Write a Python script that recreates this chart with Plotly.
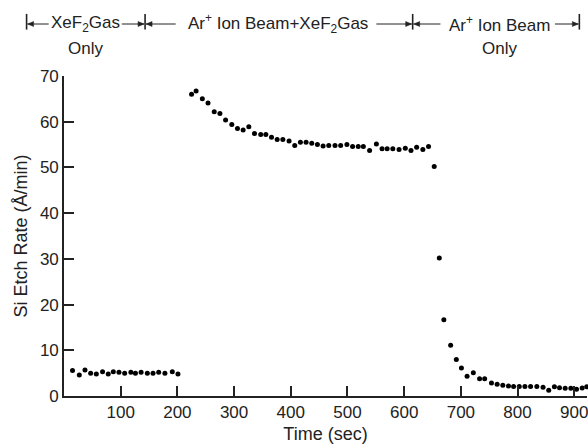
import plotly.graph_objects as go

# ---------------- data ----------------
time_gas_only = [15, 27, 37, 47, 57, 68, 78, 87, 97, 107, 118, 126, 136, 147, 157, 167, 178, 191, 201]
rate_gas_only = [5.6, 4.6, 5.7, 5.0, 4.8, 5.3, 4.8, 5.3, 5.2, 5.0, 5.2, 5.0, 5.2, 5.0, 5.0, 5.2, 5.0, 5.3, 4.8]

time_beam_gas = [225, 233, 244, 254, 265, 275, 285, 296, 306, 316, 326, 336, 347, 356, 366, 376,
                 386, 397, 407, 417, 427, 437, 447, 457, 467, 478, 488, 499, 509, 519, 528, 539,
                 551, 561, 570, 580, 591, 602, 612, 622, 633, 643]
rate_beam_gas = [66.0, 66.7, 65.0, 64.1, 62.2, 61.8, 60.4, 59.4, 58.5, 58.2, 58.9, 57.4, 57.2, 57.2,
                 56.6, 56.1, 56.1, 55.8, 54.8, 55.5, 55.5, 55.3, 55.0, 54.7, 54.8, 54.8, 54.8, 55.0,
                 54.6, 54.6, 54.6, 53.7, 55.1, 54.1, 54.1, 54.1, 53.9, 54.2, 53.7, 54.4, 53.9, 54.6]

time_beam_only = [653, 662, 670, 682, 692, 701, 711, 722, 733, 742, 754, 764, 774, 784, 793, 803,
                  813, 823, 834, 845, 855, 865, 874, 884, 894, 904, 914, 922]
rate_beam_only = [50.2, 30.2, 16.7, 11.1, 8.0, 6.1, 4.3, 5.1, 3.8, 3.8, 2.85, 2.55, 2.35, 2.2, 2.1, 2.1,
                  2.1, 2.1, 2.1, 1.9, 1.25, 2.0, 1.8, 1.7, 1.7, 1.5, 1.75, 2.0]

x_tick_values = [100, 200, 300, 400, 500, 600, 700, 800, 900]
y_tick_values = [0, 10, 20, 30, 40, 50, 60, 70]

phase_labels = ["XeF<sub>2</sub>Gas", "Ar<sup>+</sup> Ion Beam+XeF<sub>2</sub>Gas", "Ar<sup>+</sup> Ion Beam"]
phase_sublabels = ["Only", "", "Only"]
# phase boundaries (sec) used for the header bars
phase_bounds = [-66, 143, 615, 909]
# header label centres and arrow tails (sec)
phase_centers = [38, 378, 768]
arrow_tails = [(-27, 102), (197, 551), (664, 866)]

# ---------------- layout constants ----------------
W, H = 588, 446
ML, MR, MT, MB = 64, 1, 76, 50
X_RANGE = [0, 922.5]
Y_RANGE = [0, 70]
FONT = "Liberation Sans, Arial, Helvetica, sans-serif"
INK = "#222"
plot_w = W - ML - MR
plot_h = H - MT - MB


def xp(t):
    return (t - X_RANGE[0]) / (X_RANGE[1] - X_RANGE[0])


fig = go.Figure()
all_t = time_gas_only + time_beam_gas + time_beam_only
all_r = rate_gas_only + rate_beam_gas + rate_beam_only
fig.add_trace(go.Scatter(x=all_t, y=all_r, mode="markers",
                         marker=dict(color="black", size=5), cliponaxis=False,
                         showlegend=False))

ROW1 = 1.1625
ROW2 = 1.0875
shapes = []
for b in phase_bounds:
    shapes.append(dict(type="line", xref="paper", yref="paper", x0=xp(b), x1=xp(b),
                       y0=1.145, y1=1.194, line=dict(color=INK, width=1.6)))

# arrows: line from tail to bar plus a small filled head at the bar
head_len = 6 / plot_w
head_half = 2.5 / plot_h
for i in range(len(phase_labels)):
    left_tail, right_tail = arrow_tails[i]
    for head, tail in ((phase_bounds[i], left_tail), (phase_bounds[i + 1], right_tail)):
        hx, tx = xp(head), xp(tail)
        sgn = 1 if tx > hx else -1
        hx_tip = hx + sgn * 1 / plot_w
        shapes.append(dict(type="line", xref="paper", yref="paper", x0=tx, x1=hx_tip,
                           y0=ROW1, y1=ROW1, line=dict(color=INK, width=1)))
        bx = hx_tip + sgn * head_len
        shapes.append(dict(type="path", xref="paper", yref="paper",
                           path=f"M {hx_tip},{ROW1} L {bx},{ROW1 + head_half} L {bx},{ROW1 - head_half} Z",
                           fillcolor=INK, line=dict(color=INK, width=0.5)))

annotations = []
for i, lab in enumerate(phase_labels):
    annotations.append(dict(xref="paper", yref="paper", x=xp(phase_centers[i]), y=ROW1,
                            text=lab, showarrow=False, xanchor="center", yanchor="middle",
                            font=dict(family=FONT, size=17, color=INK)))
    if phase_sublabels[i]:
        annotations.append(dict(xref="paper", yref="paper", x=xp(phase_centers[i]), y=ROW2,
                                text=phase_sublabels[i], showarrow=False, xanchor="center",
                                yanchor="middle", font=dict(family=FONT, size=17, color=INK)))

fig.update_layout(
    width=W, height=H,
    margin=dict(l=ML, r=MR, t=MT, b=MB, autoexpand=False),
    paper_bgcolor="white", plot_bgcolor="white",
    font=dict(family=FONT, size=17, color=INK),
    shapes=shapes, annotations=annotations,
    xaxis=dict(range=X_RANGE, tickvals=x_tick_values, ticks="inside", ticklen=10, tickwidth=1.5,
               tickcolor=INK, showline=True, linecolor=INK, linewidth=1.6, showgrid=False,
               zeroline=False, tickfont=dict(size=17), ticklabeloverflow="allow",
               title=dict(text="Time (sec)", font=dict(size=18), standoff=6)),
    yaxis=dict(range=Y_RANGE, tickvals=y_tick_values, ticks="inside", ticklen=10, tickwidth=1.5,
               tickcolor=INK, showline=True, linecolor=INK, linewidth=1.6, showgrid=False,
               zeroline=False, tickfont=dict(size=17),
               title=dict(text="Si Etch Rate (Å/min)", font=dict(size=18), standoff=8)),
)

fig.write_html("out.html")
